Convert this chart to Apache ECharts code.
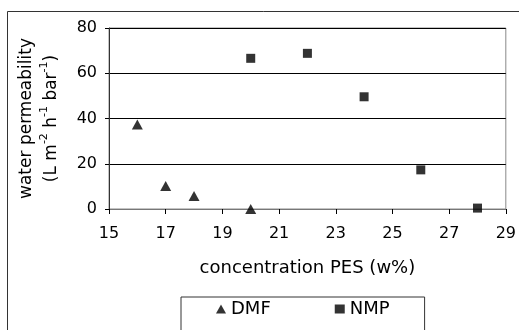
<!DOCTYPE html>
<html>
<head>
<meta charset="utf-8">
<script src="https://cdn.jsdelivr.net/npm/echarts@6/dist/echarts.min.js"></script>
<style>
  html, body { margin: 0; padding: 0; background: #fff; }
  #chart { width: 519px; height: 330px; }
</style>
</head>
<body>
<div id="chart"></div>
<script>
// concentration PES (w%) vs water permeability
const dmfConc = [16, 17, 18, 20];
const dmfPerm = [37.3, 10.2, 5.7, 0];
const nmpConc = [20, 22, 24, 26, 28];
const nmpPerm = [66.6, 68.8, 49.6, 17.3, 0.4];

const font = "DejaVu Sans";

const toPairs = (xs, ys) => xs.map((x, i) => [x, ys[i]]);

const chart = echarts.init(document.getElementById("chart"));

chart.setOption({
  animation: false,
  textStyle: { fontFamily: font },
  graphic: [
    {
      type: "rect",
      shape: { x: 7.5, y: 11.5, width: 540, height: 340 },
      style: { fill: "none", stroke: "#333", lineWidth: 1 },
      z: -1
    }
  ],
  grid: {
    left: 109, top: 28, width: 403, height: 181,
    show: true, borderColor: "#888", borderWidth: 1
  },
  legend: {
    left: 181, top: 297,
    padding: [3, 35, 20, 35],
    borderColor: "#333", borderWidth: 1,
    itemGap: 64, itemWidth: 10, itemHeight: 9,
    textStyle: { fontFamily: font, fontSize: 18, color: "#000" },
    data: [
      { name: "DMF", icon: "triangle" },
      { name: "NMP", icon: "rect" }
    ]
  },
  xAxis: {
    type: "value", min: 15, max: 29, interval: 2,
    name: "concentration PES (w%)",
    nameLocation: "middle", nameGap: 50,
    nameTextStyle: { fontFamily: font, fontSize: 18, color: "#000" },
    axisLine: { lineStyle: { color: "#777" } },
    axisTick: { show: true, inside: false, length: 5, lineStyle: { color: "#000" } },
    axisLabel: { margin: 17, fontFamily: font, fontSize: 16, color: "#000" },
    splitLine: { show: false }
  },
  yAxis: {
    type: "value", min: 0, max: 80, interval: 20,
    name: "{t|water permeability}\n{t|(L m}{s|-2}{t| h}{s|-1}{t| bar}{s|-1}{t|)}",
    nameLocation: "middle", nameGap: 45, nameRotate: 90,
    nameTextStyle: {
      color: "#000",
      rich: {
        t: { fontFamily: font, fontSize: 17, color: "#000", lineHeight: 25 },
        s: { fontFamily: font, fontSize: 11, color: "#000", verticalAlign: "top", lineHeight: 25 }
      }
    },
    axisLine: { show: true, lineStyle: { color: "#333" } },
    axisTick: { show: true, inside: false, length: 4, lineStyle: { color: "#000" } },
    axisLabel: { margin: 12, fontFamily: font, fontSize: 16, color: "#000" },
    splitLine: { show: true, lineStyle: { color: "#000", width: 1 } }
  },
  series: [
    {
      name: "DMF", type: "scatter", symbol: "triangle", symbolSize: [11, 10],
      itemStyle: { color: "#000" },
      data: toPairs(dmfConc, dmfPerm)
    },
    {
      name: "NMP", type: "scatter", symbol: "rect", symbolSize: 9,
      itemStyle: { color: "#000" },
      data: toPairs(nmpConc, nmpPerm)
    }
  ]
});
</script>
</body>
</html>
